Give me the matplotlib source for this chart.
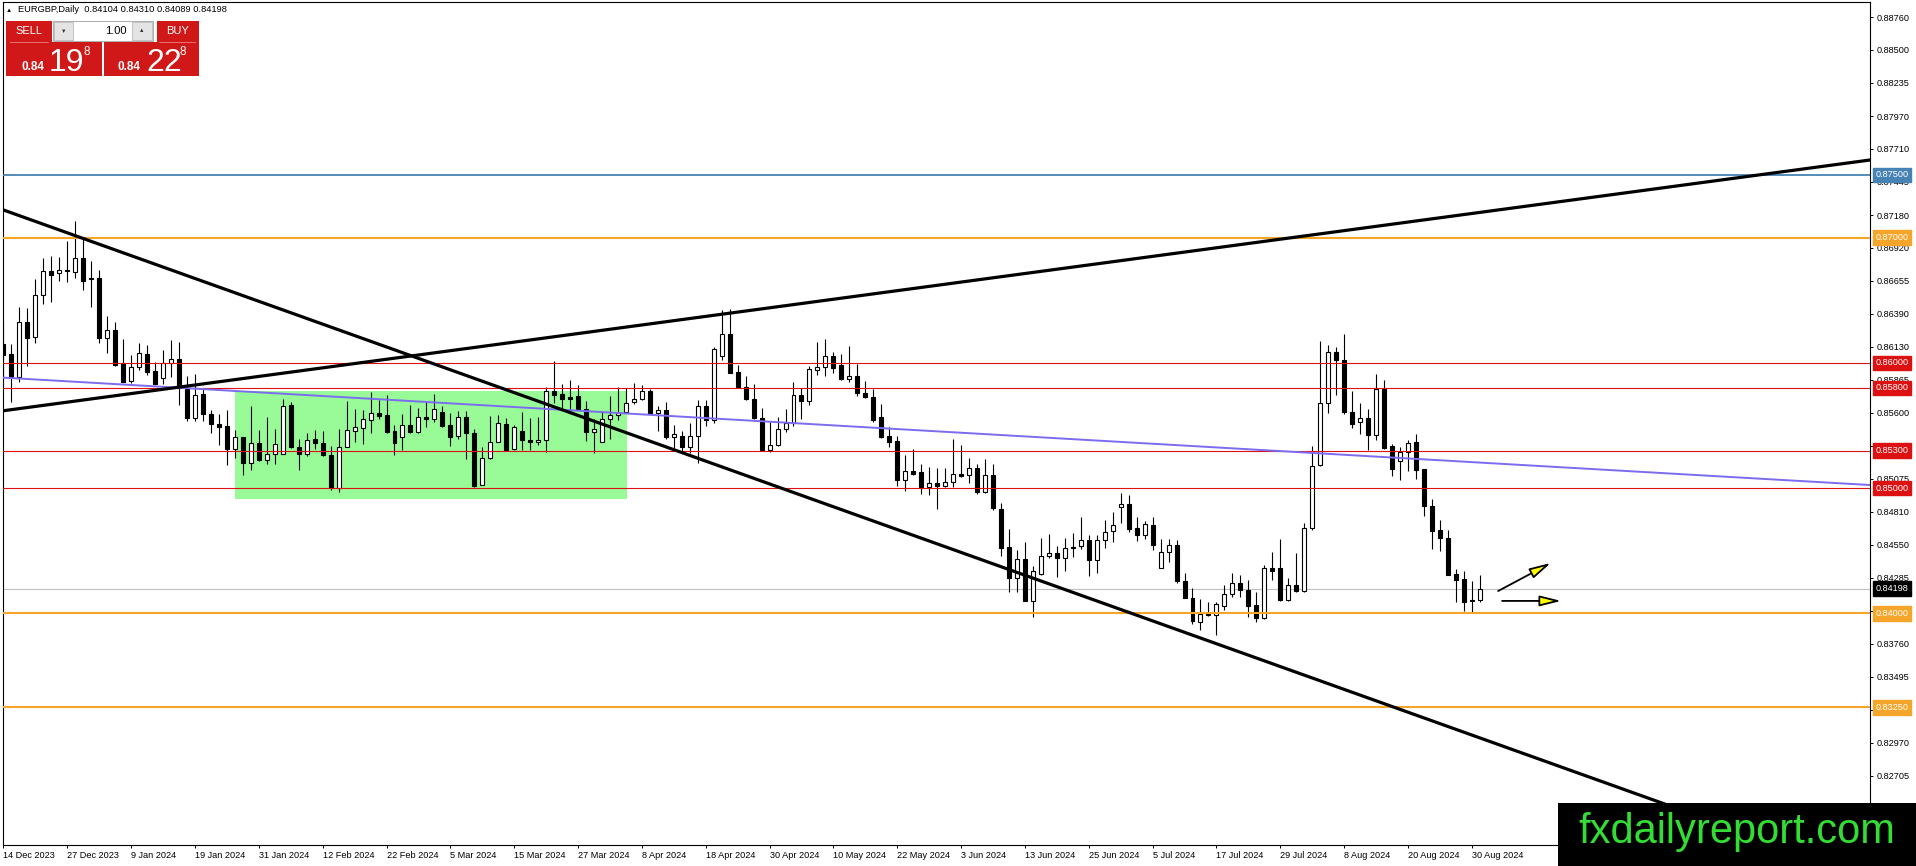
import matplotlib
matplotlib.use("Agg")
import matplotlib.pyplot as plt
from matplotlib.patches import Rectangle
from matplotlib.transforms import blended_transform_factory

plt.rcParams['font.family'] = ['Liberation Sans', 'DejaVu Sans']

# --- daily candles, EURGBP (bar index 0 = 14 Dec 2023) ---
opens = [0.86152, 0.86072, 0.85891, 0.86325, 0.86205, 0.86540, 0.86732, 0.86716, 0.86740, 0.86729,
         0.86835, 0.86678, 0.86678, 0.86197, 0.86261, 0.85995, 0.85859, 0.85965, 0.86072, 0.85936,
         0.85878, 0.85998, 0.86032, 0.85803, 0.85558, 0.85753, 0.85593, 0.85513, 0.85497, 0.85311,
         0.85412, 0.85199, 0.85363, 0.85225, 0.85275, 0.85275, 0.85661, 0.85329, 0.85275, 0.85390,
         0.85363, 0.85267, 0.85004, 0.85331, 0.85456, 0.85480, 0.85544, 0.85597, 0.85581, 0.85454,
         0.85411, 0.85507, 0.85451, 0.85565, 0.85555, 0.85608, 0.85502, 0.85416, 0.85571, 0.85443,
         0.85025, 0.85244, 0.85371, 0.85512, 0.85309, 0.85454, 0.85388, 0.85367, 0.85388, 0.85778,
         0.85754, 0.85727, 0.85738, 0.85632, 0.85449, 0.85367, 0.85552, 0.85582, 0.85605, 0.85685,
         0.85711, 0.85778, 0.85600, 0.85626, 0.85407, 0.85420, 0.85327, 0.85420, 0.85653, 0.85547,
         0.86058, 0.86231, 0.85926, 0.85806, 0.85714, 0.85556, 0.85307, 0.85346, 0.85476, 0.85518,
         0.85743, 0.85696, 0.85942, 0.85966, 0.86053, 0.85979, 0.85868, 0.85899, 0.85762, 0.85730,
         0.85571, 0.85413, 0.85373, 0.85069, 0.85135, 0.85127, 0.85008, 0.85039, 0.85016, 0.85047,
         0.85114, 0.85106, 0.85159, 0.84968, 0.85106, 0.84837, 0.84531, 0.84280, 0.84431, 0.84100,
         0.84312, 0.84457, 0.84484, 0.84444, 0.84531, 0.84537, 0.84584, 0.84426, 0.84590, 0.84656,
         0.84846, 0.84870, 0.84682, 0.84624, 0.84709, 0.84365, 0.84492, 0.84550, 0.84261, 0.84127,
         0.83931, 0.83997, 0.83984, 0.84063, 0.84153, 0.84246, 0.84188, 0.84068, 0.83963, 0.84365,
         0.84365, 0.84108, 0.84227, 0.84180, 0.84682, 0.85185, 0.85683, 0.86087, 0.86021, 0.85608,
         0.85524, 0.85563, 0.85426, 0.85788, 0.85333, 0.85219, 0.85286, 0.85365, 0.85153, 0.84857,
         0.84669, 0.84606, 0.84312, 0.84272, 0.84108, 0.84104]
highs = [0.86330, 0.86149, 0.86444, 0.86436, 0.86668, 0.86835, 0.86849, 0.86843, 0.86974, 0.87133,
         0.86987, 0.86814, 0.86742, 0.86375, 0.86327, 0.86192, 0.86059, 0.86157, 0.86144, 0.86003,
         0.86104, 0.86184, 0.86165, 0.85899, 0.85910, 0.85798, 0.85625, 0.85593, 0.85625, 0.85466,
         0.85412, 0.85652, 0.85462, 0.85571, 0.85470, 0.85709, 0.85690, 0.85390, 0.85438, 0.85462,
         0.85456, 0.85337, 0.85470, 0.85696, 0.85635, 0.85621, 0.85768, 0.85704, 0.85741, 0.85502,
         0.85595, 0.85661, 0.85643, 0.85688, 0.85749, 0.85656, 0.85597, 0.85616, 0.85616, 0.85470,
         0.85331, 0.85576, 0.85581, 0.85560, 0.85507, 0.85608, 0.85560, 0.85568, 0.85808, 0.86011,
         0.85831, 0.85865, 0.85826, 0.85693, 0.85552, 0.85605, 0.85733, 0.85808, 0.85799, 0.85839,
         0.85826, 0.85791, 0.85658, 0.85685, 0.85507, 0.85454, 0.85521, 0.85706, 0.85701, 0.86130,
         0.86422, 0.86430, 0.85984, 0.85897, 0.85828, 0.85643, 0.85529, 0.85569, 0.85635, 0.85849,
         0.85800, 0.85974, 0.86164, 0.86193, 0.86087, 0.86074, 0.86132, 0.85987, 0.85855, 0.85788,
         0.85669, 0.85492, 0.85413, 0.85264, 0.85312, 0.85193, 0.85167, 0.85161, 0.85161, 0.85391,
         0.85344, 0.85238, 0.85193, 0.85233, 0.85193, 0.84880, 0.84672, 0.84510, 0.84571, 0.84381,
         0.84603, 0.84637, 0.84537, 0.84603, 0.84645, 0.84770, 0.84629, 0.84629, 0.84748, 0.84809,
         0.84963, 0.84947, 0.84770, 0.84735, 0.84770, 0.84598, 0.84592, 0.84584, 0.84320, 0.84206,
         0.84113, 0.84095, 0.84095, 0.84227, 0.84320, 0.84307, 0.84267, 0.84174, 0.84386, 0.84487,
         0.84598, 0.84285, 0.84479, 0.84725, 0.85339, 0.86177, 0.86146, 0.86127, 0.86233, 0.85775,
         0.85677, 0.85635, 0.85915, 0.85862, 0.85352, 0.85325, 0.85386, 0.85431, 0.85153, 0.84915,
         0.84748, 0.84669, 0.84354, 0.84338, 0.84259, 0.84310]
lows = [0.85864, 0.85691, 0.85851, 0.85971, 0.86162, 0.86471, 0.86489, 0.86657, 0.86649, 0.86676,
        0.86583, 0.86444, 0.86157, 0.86082, 0.85971, 0.85851, 0.85843, 0.85939, 0.85904, 0.85835,
        0.85832, 0.85891, 0.85665, 0.85532, 0.85532, 0.85532, 0.85439, 0.85346, 0.85186, 0.85239,
        0.85106, 0.85146, 0.85217, 0.85190, 0.85190, 0.85270, 0.85324, 0.85145, 0.85257, 0.85310,
        0.85257, 0.84985, 0.84970, 0.85329, 0.85369, 0.85355, 0.85443, 0.85549, 0.85443, 0.85262,
        0.85305, 0.85443, 0.85443, 0.85491, 0.85528, 0.85491, 0.85337, 0.85395, 0.85230, 0.85012,
        0.85023, 0.85236, 0.85368, 0.85300, 0.85303, 0.85303, 0.85303, 0.85343, 0.85287, 0.85680,
        0.85626, 0.85626, 0.85626, 0.85375, 0.85282, 0.85367, 0.85393, 0.85547, 0.85600, 0.85675,
        0.85706, 0.85595, 0.85454, 0.85393, 0.85309, 0.85277, 0.85282, 0.85203, 0.85494, 0.85521,
        0.86024, 0.85918, 0.85799, 0.85706, 0.85550, 0.85299, 0.85291, 0.85338, 0.85450, 0.85497,
        0.85550, 0.85661, 0.85907, 0.85894, 0.85921, 0.85862, 0.85849, 0.85735, 0.85722, 0.85529,
        0.85397, 0.85325, 0.85021, 0.84981, 0.85108, 0.84955, 0.84942, 0.84831, 0.85008, 0.85008,
        0.85087, 0.85039, 0.84950, 0.84963, 0.84826, 0.84460, 0.84169, 0.84174, 0.84100, 0.83968,
        0.84307, 0.84439, 0.84293, 0.84338, 0.84452, 0.84518, 0.84301, 0.84320, 0.84526, 0.84571,
        0.84725, 0.84651, 0.84576, 0.84592, 0.84505, 0.84359, 0.84412, 0.84240, 0.84127, 0.83915,
        0.83870, 0.83981, 0.83825, 0.84029, 0.84135, 0.84135, 0.83968, 0.83931, 0.83957, 0.84267,
        0.84100, 0.84100, 0.84174, 0.84169, 0.84664, 0.85180, 0.85603, 0.85741, 0.85590, 0.85484,
        0.85431, 0.85307, 0.85386, 0.85312, 0.85095, 0.85069, 0.85140, 0.85074, 0.84778, 0.84513,
        0.84497, 0.84307, 0.84090, 0.84021, 0.84002, 0.84089]
closes = [0.86064, 0.85891, 0.86325, 0.86202, 0.86540, 0.86732, 0.86700, 0.86740, 0.86732, 0.86835,
          0.86652, 0.86668, 0.86202, 0.86261, 0.85984, 0.85851, 0.85965, 0.86077, 0.85931, 0.85835,
          0.85998, 0.86029, 0.85811, 0.85558, 0.85745, 0.85590, 0.85511, 0.85492, 0.85311, 0.85407,
          0.85199, 0.85359, 0.85225, 0.85275, 0.85355, 0.85656, 0.85329, 0.85275, 0.85385, 0.85363,
          0.85262, 0.85004, 0.85331, 0.85462, 0.85491, 0.85549, 0.85597, 0.85576, 0.85448, 0.85358,
          0.85507, 0.85448, 0.85571, 0.85555, 0.85635, 0.85496, 0.85408, 0.85571, 0.85443, 0.85017,
          0.85244, 0.85371, 0.85517, 0.85303, 0.85489, 0.85383, 0.85367, 0.85383, 0.85778, 0.85746,
          0.85714, 0.85714, 0.85632, 0.85449, 0.85473, 0.85555, 0.85587, 0.85600, 0.85680, 0.85714,
          0.85778, 0.85600, 0.85626, 0.85407, 0.85433, 0.85327, 0.85420, 0.85653, 0.85542, 0.86109,
          0.86231, 0.85923, 0.85804, 0.85711, 0.85556, 0.85307, 0.85346, 0.85476, 0.85518, 0.85743,
          0.85696, 0.85952, 0.85966, 0.86053, 0.85960, 0.85868, 0.85894, 0.85762, 0.85727, 0.85542,
          0.85410, 0.85370, 0.85069, 0.85135, 0.85114, 0.85008, 0.85039, 0.85021, 0.85047, 0.85114,
          0.85100, 0.85159, 0.84968, 0.85106, 0.84844, 0.84524, 0.84280, 0.84431, 0.84100, 0.84338,
          0.84460, 0.84479, 0.84444, 0.84524, 0.84524, 0.84590, 0.84426, 0.84590, 0.84651, 0.84704,
          0.84870, 0.84677, 0.84624, 0.84711, 0.84545, 0.84492, 0.84550, 0.84259, 0.84127, 0.83936,
          0.83997, 0.83984, 0.84074, 0.84158, 0.84246, 0.84188, 0.84063, 0.83963, 0.84365, 0.84341,
          0.84108, 0.84227, 0.84180, 0.84682, 0.85174, 0.85683, 0.86087, 0.86021, 0.85608, 0.85516,
          0.85561, 0.85426, 0.85794, 0.85320, 0.85153, 0.85286, 0.85360, 0.85148, 0.84857, 0.84659,
          0.84603, 0.84307, 0.84267, 0.84095, 0.84100, 0.84198]

date_labels = ['14 Dec 2023', '27 Dec 2023', '9 Jan 2024', '19 Jan 2024', '31 Jan 2024', '12 Feb 2024',
               '22 Feb 2024', '5 Mar 2024', '15 Mar 2024', '27 Mar 2024', '8 Apr 2024', '18 Apr 2024',
               '30 Apr 2024', '10 May 2024', '22 May 2024', '3 Jun 2024', '13 Jun 2024', '25 Jun 2024',
               '5 Jul 2024', '17 Jul 2024', '29 Jul 2024', '8 Aug 2024', '20 Aug 2024', '30 Aug 2024']
price_ticks = [0.88760, 0.88500, 0.88235, 0.87970, 0.87710, 0.87445, 0.87180, 0.86920, 0.86655, 0.86390,
               0.86130, 0.85865, 0.85600, 0.85340, 0.85075, 0.84810, 0.84550, 0.84285, 0.84020, 0.83760,
               0.83495, 0.83230, 0.82970, 0.82705]

# horizontal levels drawn on the chart
level_prices = [0.87500, 0.87000, 0.86000, 0.85800, 0.85300, 0.85000, 0.84000, 0.83250]
level_colors = ['#4682b4', '#f5a52a', '#dd1111', '#dd1111', '#dd1111', '#dd1111', '#f5a52a', '#f5a52a']
level_widths = [1.3, 1.5, 0.8, 0.8, 0.8, 0.8, 1.5, 1.5]
last_price = 0.84198

# trend lines: two anchor points each (bar index, price)
trend_up = [(0.0, 0.85618), (233.9, 0.87619)]
trend_down = [(0.0, 0.87220), (187.5, 0.82950)]
mid_line = [(0.0, 0.85882), (233.9, 0.85025)]
range_box = (29.0, 78.1, 0.84916, 0.85776)   # x0, x1, low, high

W, H = 1916, 866
fig = plt.figure(figsize=(W / 100, H / 100), dpi=100)
fig.patch.set_facecolor('white')
ax = fig.add_axes([3 / W, 21 / H, 1867 / W, 843 / H])
ax.set_xlim(-0.06, 233.9)
ax.set_ylim(0.82152, 0.88880)

# background rectangle
bx0, bx1, blo, bhi = range_box
ax.add_patch(Rectangle((bx0, blo), bx1 - bx0, bhi - blo, facecolor='#98fb98', edgecolor='none', zorder=1))

# candles
idx = list(range(len(opens)))
ax.vlines(idx, lows, highs, color='black', lw=0.8, zorder=3)
bottoms = [min(o, c) for o, c in zip(opens, closes)]
heights = [max(abs(c - o), 0.00001) for o, c in zip(opens, closes)]
fills = ['white' if c >= o else 'black' for o, c in zip(opens, closes)]
ax.bar(idx, heights, bottom=bottoms, width=0.5, color=fills, edgecolor='black', lw=0.8, zorder=4)

# levels
for p, col, lw in zip(level_prices, level_colors, level_widths):
    ax.axhline(p, color=col, lw=lw, zorder=5)
ax.axhline(last_price, color='#c0c0c0', lw=0.8, zorder=2)

# trend lines
ax.axline(trend_up[0], trend_up[1], color='black', lw=2.3, zorder=6)
ax.axline(trend_down[0], trend_down[1], color='black', lw=2.3, zorder=6)
ax.axline(mid_line[0], mid_line[1], color='#7b6cf0', lw=1.4, zorder=5)

# arrows
arrow_kw = dict(arrowstyle='-|>,head_length=1.3,head_width=0.32', fc='#ffff00', ec='black', lw=1.3,
                shrinkA=0, shrinkB=0, mutation_scale=10)
ax.annotate('', xy=(193.9, 0.84403), xytext=(187.3, 0.84179), arrowprops=arrow_kw, zorder=7)
ax.annotate('', xy=(195.2, 0.84100), xytext=(187.8, 0.84100), arrowprops=arrow_kw, zorder=7)

# axes styling
for s in ax.spines.values():
    s.set_color('black')
    s.set_linewidth(0.8)
ax.yaxis.tick_right()
ax.set_yticks(price_ticks)
ax.set_yticklabels(['%.5f' % t for t in price_ticks])
ax.tick_params(axis='y', length=2.5, width=0.7, pad=2, labelsize=6.6, colors='black')
ax.set_xticks(list(range(0, 8 * len(date_labels), 8)))
ax.set_xticklabels(date_labels, ha='left')
ax.tick_params(axis='x', length=2.5, width=0.7, pad=1.5, labelsize=6.6)
for lab in ax.get_xticklabels():
    lab.set_x(lab.get_position()[0])

# price labels on the right scale
tr = blended_transform_factory(ax.transAxes, ax.transData)
for p, col in zip(level_prices + [last_price], level_colors + ['black']):
    ax.text(1.0030, p, '%.5f' % p, transform=tr, ha='left', va='center', color='white', fontsize=6.6,
            bbox=dict(boxstyle='square,pad=0.3', fc=col, ec=col), zorder=20, clip_on=False)


def fx(x):
    return x / W


def fy(y):
    return 1 - y / H


def box(x0, y0, x1, y1, fc, ec='none', lw=0.0):
    fig.add_artist(Rectangle((fx(x0), fy(y1)), (x1 - x0) / W, (y1 - y0) / H, transform=fig.transFigure,
                             facecolor=fc, edgecolor=ec, lw=lw))


# header line
fig.text(fx(9), fy(10), '▲', fontsize=4.5, ha='center', va='center', color='black')
fig.text(fx(18), fy(10), 'EURGBP,Daily  0.84104 0.84310 0.84089 0.84198', fontsize=6.7,
         ha='left', va='center', color='black')

# one-click trading panel
red = '#d01818'
box(6, 21, 52, 42, red)
box(157, 21, 199, 42, red)
box(6, 42, 102, 76, red)
box(104, 42, 199, 76, red)
box(53, 21, 153, 41, 'white', ec='#a0a0a0', lw=0.6)
box(54, 22, 73, 40, '#e4e4e4', ec='#b0b0b0', lw=0.5)
box(132, 22, 152, 40, '#e4e4e4', ec='#b0b0b0', lw=0.5)
fig.text(fx(63.5), fy(31), '▼', fontsize=4, ha='center', va='center', color='#333333')
fig.text(fx(142), fy(31), '▲', fontsize=4, ha='center', va='center', color='#333333')
fig.text(fx(127), fy(31), '1.00', fontsize=8, ha='right', va='center', color='black')
fig.text(fx(29), fy(31), 'SELL', fontsize=8, ha='center', va='center', color='white')
fig.text(fx(178), fy(31), 'BUY', fontsize=8, ha='center', va='center', color='white')
fig.add_artist(plt.Line2D([fx(10), fx(48)], [fy(41.5), fy(41.5)], color='#f08080', lw=0.6,
                          transform=fig.transFigure))
fig.add_artist(plt.Line2D([fx(159), fx(195)], [fy(41.5), fy(41.5)], color='#f08080', lw=0.6,
                          transform=fig.transFigure))
for x0, big in [(21, '19'), (118, '22')]:
    fig.text(fx(x0), fy(70), '0.84', fontsize=8.5, fontweight='bold', ha='left', va='baseline', color='white')
    fig.text(fx(x0 + 28), fy(71), big, fontsize=23, ha='left', va='baseline', color='white')
    fig.text(fx(x0 + 62), fy(55), '8', fontsize=8.5, ha='left', va='baseline', color='white')

# watermark
box(1558, 803, 1916, 866, 'black')
fig.text(fx(1737), fy(843), 'fxdailyreport.com', fontsize=30, ha='center', va='baseline', color='#33dd33')

fig.savefig('out.png', dpi=100, facecolor='white')
